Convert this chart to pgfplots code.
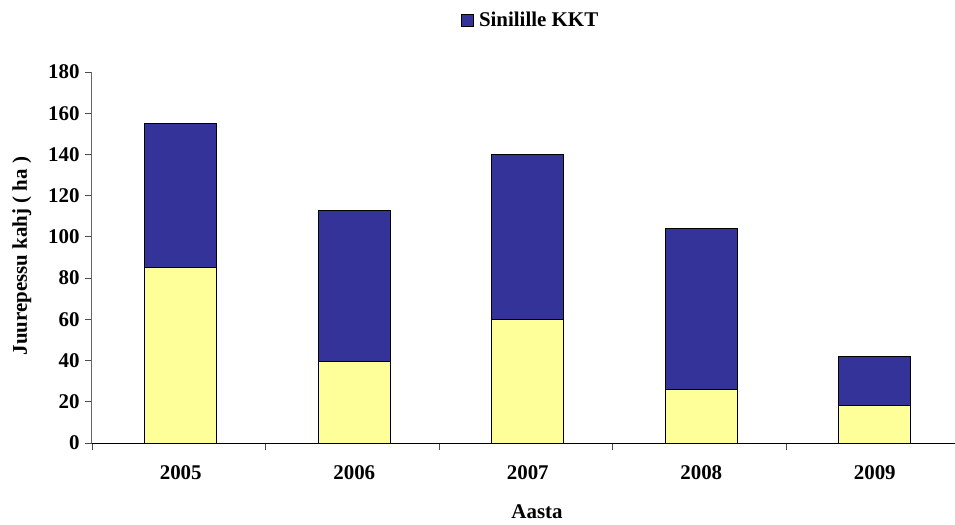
\documentclass[border=0pt]{standalone}
\usepackage{pgfplots}
\pgfplotsset{compat=1.18}
\usepackage{fontspec}
\setmainfont{Liberation Serif}
\definecolor{barblue}{HTML}{333399}
\definecolor{baryellow}{HTML}{FFFF99}
\begin{document}
\begin{tikzpicture}
\useasboundingbox (-92bp,-82bp) rectangle (863bp,443bp);
\begin{axis}[
  at={(0,0)}, anchor=south west,
  scale only axis, width=867.5bp, height=371bp,
  ybar stacked, bar width=72bp, bar shift=2bp,
  xmin=-0.5, xmax=4.5, ymin=0, ymax=180,
  ytick={0,20,...,180},
  xtick={-0.5,0.5,1.5,2.5,3.5,4.5},
  xticklabels={2005,2006,2007,2008,2009},
  x tick label as interval,
  axis x line*=bottom, axis y line*=left,
  x axis line style={-, black, line width=1bp},
  y axis line style={-, black!60, line width=1bp},
  tick align=outside, major tick length=7bp,
  tick style={black!70, line width=0.8bp},
  /pgf/number format/assume math mode=true,
  ticklabel style={font=\fontsize{21}{25}\selectfont\bfseries},
  yticklabel style={xshift=-2bp},
  xticklabel style={yshift=-12bp, xshift=2bp},
  xlabel={Aasta},
  ylabel={Juurepessu kahj ( ha )},
  label style={font=\fontsize{21}{25}\selectfont\bfseries},
  xlabel style={at={(axis description cs:0.513,-0.186)}, anchor=center},
  ylabel style={at={(axis description cs:-0.081,0.504)}, anchor=center},
  legend style={at={(axis description cs:0.4253,1.140)}, anchor=west, draw=none, fill=none, inner sep=0pt,
    font=\fontsize{21}{25}\selectfont\bfseries},
  every axis plot/.append style={draw=black, line width=1bp},
]
\addplot[fill=baryellow, draw=black, forget plot] coordinates {(0,85) (1,39.5) (2,60) (3,26) (4,18)};
\addplot[fill=barblue, draw=black,
  legend image code/.code={\draw[fill=barblue, draw=black, line width=0.8bp] (0bp,-6bp) rectangle (12bp,6bp); \path (15bp,0bp);}]
  coordinates {(0,70) (1,73.5) (2,80) (3,78) (4,24)};
\addlegendentry{Sinilille KKT}
\end{axis}
\end{tikzpicture}
\end{document}
